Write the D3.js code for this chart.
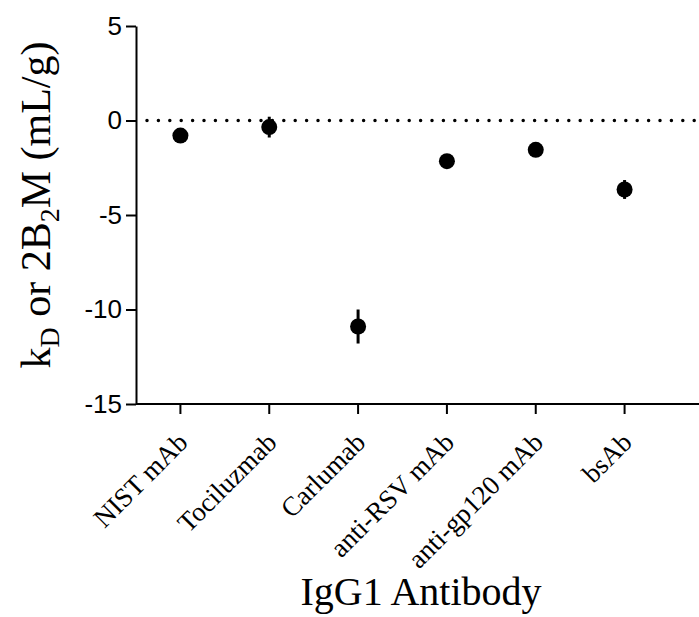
<!DOCTYPE html>
<html>
<head>
<meta charset="utf-8">
<script src="https://cdn.jsdelivr.net/npm/d3@7"></script>
<style>
  body { margin: 0; background: #fff; }
  svg { display: block; }
</style>
</head>
<body>
<svg id="chart" width="699" height="617"></svg>
<script>
const antibodies = ['NIST mAb', 'Tociluzmab', 'Carlumab', 'anti-RSV mAb', 'anti-gp120 mAb', 'bsAb'];
const kdMeans = [-0.8, -0.35, -10.9, -2.15, -1.55, -3.65];
const kdErrors = [0.2, 0.55, 0.9, 0.2, 0.2, 0.5];
const yTicks = [5, 0, -5, -10, -15];

const svg = d3.select('svg#chart');
const serif = '"Liberation Serif", "Times New Roman", serif';
const sans = '"Liberation Sans", Arial, sans-serif';

const x = d3.scaleBand().domain(antibodies).range([136, 669]);
const y = d3.scaleLinear().domain([-15, 5]).range([404, 26]);
const cx = d => x(d) + x.bandwidth() / 2;

// y axis
const yAxis = svg.append('g')
  .attr('transform', 'translate(136,0)')
  .call(d3.axisLeft(y).tickValues(yTicks).tickFormat(d => String(d))
    .tickSize(10).tickSizeOuter(0).tickPadding(4));
yAxis.select('.domain').attr('stroke-width', 2);
yAxis.selectAll('.tick line').attr('stroke-width', 2);
yAxis.selectAll('.tick text')
  .attr('font-family', sans).attr('font-size', 26).attr('fill', '#000');

// x axis
const xAxis = svg.append('g')
  .attr('transform', 'translate(0,404)')
  .call(d3.axisBottom(x).tickSize(10).tickSizeOuter(0));
xAxis.select('.domain').attr('d', 'M136,0H699').attr('stroke-width', 2);
xAxis.selectAll('.tick line').attr('stroke-width', 2);
xAxis.selectAll('.tick text')
  .attr('font-family', serif).attr('font-size', 27).attr('fill', '#000')
  .attr('text-anchor', 'end')
  .attr('dy', 0).attr('y', 0)
  .attr('transform', 'translate(9,40) rotate(-45)');

// zero reference line
svg.append('line')
  .attr('x1', 147).attr('x2', 699)
  .attr('y1', y(0)).attr('y2', y(0))
  .attr('stroke', '#000').attr('stroke-width', 3.5)
  .attr('stroke-linecap', 'round')
  .attr('stroke-dasharray', '0 11.4');

// error bars
svg.append('g').selectAll('line')
  .data(antibodies)
  .join('line')
  .attr('x1', d => cx(d)).attr('x2', d => cx(d))
  .attr('y1', (d, i) => y(kdMeans[i] + kdErrors[i]))
  .attr('y2', (d, i) => y(kdMeans[i] - kdErrors[i]))
  .attr('stroke', '#000').attr('stroke-width', 3);

// points
svg.append('g').selectAll('circle')
  .data(antibodies)
  .join('circle')
  .attr('cx', d => cx(d))
  .attr('cy', (d, i) => y(kdMeans[i]))
  .attr('r', 8)
  .attr('fill', '#000');

// axis titles
const yTitle = svg.append('text')
  .attr('transform', 'translate(50,205) rotate(-90)')
  .attr('text-anchor', 'middle')
  .attr('font-family', serif).attr('font-size', 42);
yTitle.append('tspan').text('k');
yTitle.append('tspan').attr('font-size', 28).attr('dy', 9).text('D');
yTitle.append('tspan').attr('dy', -9).text(' or 2B');
yTitle.append('tspan').attr('font-size', 28).attr('dy', 9).text('2');
yTitle.append('tspan').attr('dy', -9).text('M (mL/g)');

svg.append('text')
  .attr('x', 421).attr('y', 605)
  .attr('text-anchor', 'middle')
  .attr('font-family', serif).attr('font-size', 40)
  .text('IgG1 Antibody');
</script>
</body>
</html>
